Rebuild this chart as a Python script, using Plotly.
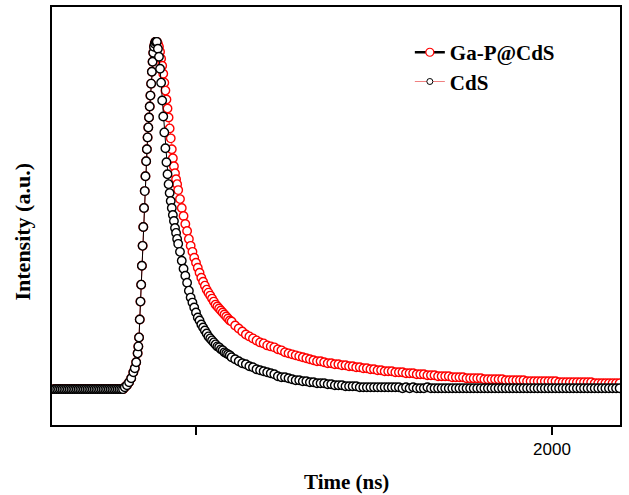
import plotly.graph_objects as go

# ---------------- data ----------------
time_baseline = [600, 605, 610, 615, 620, 625, 630, 635, 640, 645,
                 650, 655, 660, 665, 670, 675, 680, 685, 690, 695,
                 700, 705, 710, 715, 720, 725, 730, 735, 740, 745,
                 750, 755, 760, 765, 770, 775, 780, 785, 790]
time_rise = [795, 800, 806, 812, 818, 824, 828, 832, 836, 838, 840, 842,
             844, 846, 848, 850, 852, 854, 856, 858, 860, 862, 864, 866,
             868, 870, 872, 874, 876, 878, 880, 882, 884, 886, 888]
time_decay_fast = [890, 893, 896, 899, 902, 905, 908, 911, 914, 917,
                   920, 923, 926, 929, 932, 935, 938, 941, 944, 947]
time_decay_mid = [950, 955, 960, 965, 970, 975, 980, 985, 990, 995,
                  1000, 1005, 1010, 1015, 1020, 1025, 1030, 1035, 1040, 1045,
                  1050, 1055, 1060, 1065, 1070, 1075, 1080, 1085, 1090, 1095]
time_tail = [1100, 1110, 1120, 1130, 1140, 1150, 1160, 1170, 1180, 1190,
             1200, 1210, 1220, 1230, 1240, 1250, 1260, 1270, 1280, 1290,
             1300, 1310, 1320, 1330, 1340, 1350, 1360, 1370, 1380, 1390,
             1400, 1410, 1420, 1430, 1440, 1450, 1460, 1470, 1480, 1490,
             1500, 1510, 1520, 1530, 1540, 1550, 1560, 1570, 1580, 1590,
             1600, 1610, 1620, 1630, 1640, 1650, 1660, 1670, 1680, 1690,
             1700, 1710, 1720, 1730, 1740, 1750, 1760, 1770, 1780, 1790,
             1800, 1810, 1820, 1830, 1840, 1850, 1860, 1870, 1880, 1890,
             1900, 1910, 1920, 1930, 1940, 1950, 1960, 1970, 1980, 1990,
             2000, 2010, 2020, 2030, 2040, 2050, 2060, 2070, 2080, 2090,
             2100, 2110, 2120, 2130, 2140, 2150, 2160, 2170, 2180, 2190]

baseline_vals = [0, 0, 0, 0, 0, 0, 0, 0, 0, 0,
                 0, 0, 0, 0, 0, 0, 0, 0, 0, 0,
                 0, 0, 0, 0, 0, 0, 0, 0, 0, 0,
                 0, 0, 0, 0, 0, 0, 0, 0, 0]
rise_vals = [0, 2, 4, 7, 11, 17, 21, 27, 36, 43, 52, 70,
             88, 105, 124, 144, 163, 182, 199, 214, 229, 241, 253, 263,
             273, 284, 295, 307, 319, 329, 338, 344, 347, 349, 349]

# CdS (black markers) decay
cds_decay = [349, 342, 334, 322, 308, 290, 274, 258, 242, 228,
             216, 206, 197, 189, 182, 175, 169, 162, 157, 151,
             146, 138, 129, 121, 114, 107, 99, 92, 87, 82,
             77, 72, 69, 65, 62, 59, 56, 53, 51, 49,
             47, 45, 43, 42, 40, 39, 37, 36, 35, 34]
cds_tail = [32, 30, 28, 26, 25, 23, 22, 20, 19, 18,
            17, 16, 15, 13, 12, 12, 11, 10, 9, 9,
            8, 8, 7, 7, 6, 6, 6, 5, 5, 4,
            4, 4, 3, 3, 3, 3, 2, 2, 2, 2,
            2, 2, 2, 2, 2, 2, 2, 2, 1, 2,
            1, 2, 1, 1, 1, 2, 1, 1, 1, 1,
            1, 1, 1, 1, 1, 1, 1, 1, 1, 1,
            1, 1, 1, 1, 1, 1, 1, 1, 1, 1,
            1, 1, 1, 1, 1, 1, 1, 1, 1, 1,
            1, 1, 1, 1, 1, 1, 1, 1, 1, 1,
            1, 1, 1, 1, 1, 1, 1, 1, 1, 1]

# Ga-P@CdS (red markers) decay
gap_decay = [349, 347, 344, 339, 332, 325, 317, 308, 300, 291,
             282, 273, 262, 252, 241, 232, 224, 217, 211, 206,
             200, 191, 182, 174, 166, 159, 151, 144, 138, 132,
             127, 122, 117, 112, 108, 104, 100, 97, 94, 91,
             88, 85, 83, 81, 79, 77, 75, 73, 71, 69]
gap_tail = [68, 64, 61, 58, 55, 53, 51, 49, 47, 46,
            44, 43, 42, 40, 39, 37, 36, 35, 34, 33,
            32, 31, 30, 29, 28, 28, 27, 26, 26, 25,
            25, 24, 24, 23, 23, 22, 22, 21, 21, 20,
            20, 19, 19, 18, 18, 18, 17, 17, 17, 16,
            16, 16, 15, 15, 15, 14, 14, 14, 13, 13,
            13, 13, 12, 12, 12, 12, 11, 11, 11, 11,
            11, 10, 10, 10, 10, 10, 10, 9, 9, 9,
            9, 9, 9, 8, 8, 8, 8, 8, 8, 8,
            8, 8, 7, 7, 7, 7, 7, 7, 7, 7,
            7, 7, 6, 6, 6, 6, 6, 6, 6, 6]

series_names = ["Ga-P@CdS", "CdS"]
x_tick_vals = [1000, 2000]
x_tick_text = ["", "2000"]

time = time_baseline + time_rise + time_decay_fast + time_decay_mid + time_tail
gap_vals = baseline_vals + rise_vals + gap_decay + gap_tail
cds_vals = baseline_vals + rise_vals + cds_decay + cds_tail
assert len(time) == len(gap_vals) == len(cds_vals)

SERIF = "Liberation Serif, Times New Roman, serif"

fig = go.Figure()

# data traces
fig.add_trace(go.Scatter(
    x=time, y=gap_vals, mode="lines+markers", showlegend=False,
    line=dict(color="red", width=0.8),
    marker=dict(symbol="circle", size=8.5, color="white",
                line=dict(color="red", width=1.4)),
))
fig.add_trace(go.Scatter(
    x=time, y=cds_vals, mode="lines+markers", showlegend=False,
    line=dict(color="black", width=1),
    marker=dict(symbol="circle", size=8.5, color="white",
                line=dict(color="black", width=1.4)),
))

# legend entries (styled as in the reference legend)
fig.add_trace(go.Scatter(
    x=[None], y=[None], mode="lines+markers", name=series_names[0],
    line=dict(color="black", width=2.5),
    marker=dict(symbol="circle", size=8, color="white",
                line=dict(color="red", width=1.2)),
    legend="legend",
))
fig.add_trace(go.Scatter(
    x=[None], y=[None], mode="lines+markers", name=series_names[1],
    line=dict(color="#f08080", width=1.2),
    marker=dict(symbol="circle", size=6, color="white",
                line=dict(color="black", width=1)),
    legend="legend2",
))

legend_common = dict(
    font=dict(family=SERIF, size=21, color="black", weight="bold"),
    bgcolor="rgba(0,0,0,0)", borderwidth=0,
    xanchor="left", yanchor="top",
)

fig.update_layout(
    width=629, height=495,
    margin=dict(l=52, r=9, t=5, b=70),
    paper_bgcolor="white", plot_bgcolor="white",
    showlegend=True,
    legend=dict(x=0.630, y=0.940, **legend_common),
    legend2=dict(x=0.630, y=0.870, **legend_common),
    xaxis=dict(
        range=[595.5, 2191], tickvals=x_tick_vals, ticktext=x_tick_text,
        ticks="outside", ticklen=8, tickwidth=1.5, tickcolor="black",
        tickfont=dict(family="Liberation Sans, Arial, sans-serif", size=17, color="black"),
        showline=True, linecolor="black", linewidth=1.8, mirror=True,
        showgrid=False, zeroline=False,
    ),
    yaxis=dict(
        range=[-36, 384], showticklabels=False, ticks="",
        showline=True, linecolor="black", linewidth=1.8, mirror=True,
        showgrid=False, zeroline=False,
    ),
    annotations=[
        dict(text="<b>Time (ns)</b>", xref="paper", yref="paper",
             x=0.519, y=-0.136, xanchor="center", yanchor="middle",
             showarrow=False, font=dict(family=SERIF, size=21, color="black")),
        dict(text="<b>Intensity (a.u.)</b>", xref="paper", yref="paper",
             x=-0.052, y=0.464, xanchor="center", yanchor="middle", textangle=-90,
             showarrow=False, font=dict(family=SERIF, size=22, color="black")),
    ],
)

fig.write_html("out.html", config={"displayModeBar": False},
               post_script="document.body.style.margin='0';")
